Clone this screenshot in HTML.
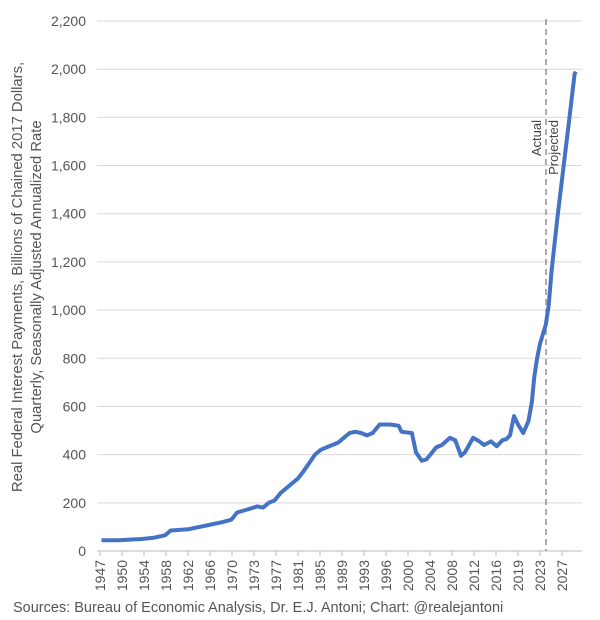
<!DOCTYPE html>
<html><head><meta charset="utf-8"><style>
body{margin:0;background:#fff;}
svg{display:block;font-family:"Liberation Sans",sans-serif;}
</style></head><body>
<svg width="600" height="620" viewBox="0 0 600 620">
<g id="grid"></g><g id="yl"></g><g id="xl"></g>
<line x1="546" y1="19" x2="546" y2="551" stroke="#777" stroke-width="1.2" stroke-dasharray="6,4"/>
<text transform="translate(541,120) rotate(-90)" text-anchor="end" font-size="13" fill="#444">Actual</text>
<text transform="translate(558,120) rotate(-90)" text-anchor="end" font-size="13" fill="#444">Projected</text>
<path id="ln" fill="none" stroke="#4472C4" stroke-width="4" stroke-linejoin="round"/>
<text transform="translate(22,277) rotate(-90)" text-anchor="middle" font-size="14.8" fill="#555"><tspan x="0" dy="0">Real Federal Interest Payments, Billions of Chained 2017 Dollars,</tspan><tspan x="0" dy="19">Quarterly, Seasonally Adjusted Annualized Rate</tspan></text>
<text x="13" y="612" font-size="14.5" fill="#555">Sources: Bureau of Economic Analysis, Dr. E.J. Antoni; Chart: @realejantoni</text>
</svg>
<script>
const years=[1947,1950,1954,1956,1958,1959,1962,1966,1968,1969.5,1970.5,1972,1974,1975,1976,1977,1978,1980,1981,1982,1984,1985,1986,1988,1989,1990,1991,1992,1993,1994,1995.2,1997,1998.5,1999,2000.8,2001.5,2002.5,2003.3,2004,2005,2006,2007.4,2008.3,2009.3,2010,2011.4,2012.5,2013.3,2014.5,2015.5,2016.5,2017.2,2017.8,2018.5,2019.3,2020.1,2021,2021.6,2022,2022.5,2023,2024,2024.5,2025,2026,2027,2028,2029,2029.2];
const values=[45,45,50,55,65,85,90,110,120,130,160,170,185,180,200,210,240,280,300,330,400,420,430,450,470,490,495,490,480,490,525,525,520,495,490,410,375,380,400,430,440,470,460,395,410,470,455,440,455,435,460,465,480,560,520,490,540,620,720,800,860,940,1020,1160,1380,1580,1780,1980,1990];
const yTicks=[0,200,400,600,800,1000,1200,1400,1600,1800,2000,2200];
const xLabels=["1947","1950","1954","1958","1962","1966","1970","1973","1977","1981","1985","1989","1993","1996","2000","2004","2008","2012","2016","2019","2023","2027"];
const X=y=>540+(y-2023)*5.77, Y=v=>551-v*0.2409;
const ns="http://www.w3.org/2000/svg";
const g=document.getElementById('grid'),yl=document.getElementById('yl'),xl=document.getElementById('xl');
yTicks.forEach(t=>{
 const l=document.createElementNS(ns,'line');
 
 
 l.setAttribute('x1',97);l.setAttribute('x2',582);l.setAttribute('y1',Y(t));l.setAttribute('y2',Y(t));
 l.setAttribute('stroke',t===0?'#bbb':'#d9d9d9');l.setAttribute('stroke-width',1);g.appendChild(l);
 const tx=document.createElementNS(ns,'text');
 
 
 tx.setAttribute('x',86);tx.setAttribute('y',Y(t)+5);tx.setAttribute('text-anchor','end');
 tx.setAttribute('font-size','14');tx.setAttribute('fill','#555');tx.textContent=t.toLocaleString('en-US');yl.appendChild(tx);
});
xLabels.forEach((s,i)=>{
 const x=100+i*22;
 const tk=document.createElementNS(ns,'line');
 
 
 tk.setAttribute('x1',x);tk.setAttribute('x2',x);tk.setAttribute('y1',551);tk.setAttribute('y2',556);tk.setAttribute('stroke','#bbb');xl.appendChild(tk);
 const tx=document.createElementNS(ns,'text');
 
 
 tx.setAttribute('transform','translate('+(x+5)+',560) rotate(-90)');tx.setAttribute('text-anchor','end');
 tx.setAttribute('font-size','14');tx.setAttribute('fill','#555');tx.textContent=s;xl.appendChild(tx);
});
document.getElementById('ln').setAttribute('d',years.map((y,i)=>(i?'L':'M')+X(y).toFixed(1)+','+Y(values[i]).toFixed(1)).join(''));
</script>
</body></html>
